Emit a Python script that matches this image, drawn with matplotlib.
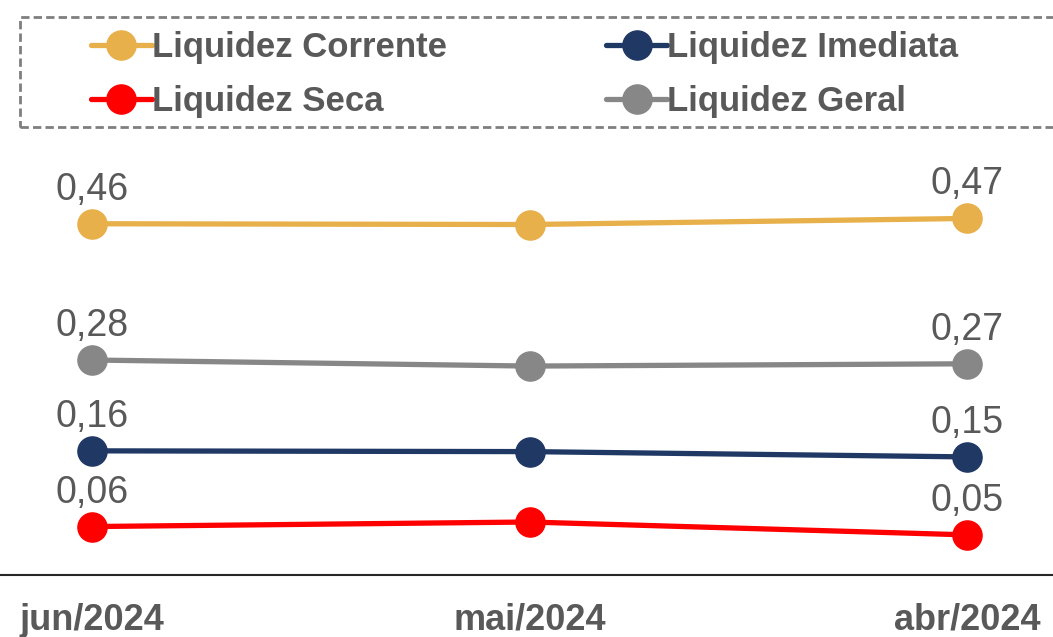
import numpy as np
import matplotlib
matplotlib.use('Agg')
import matplotlib.pyplot as plt
from matplotlib.patches import Rectangle

plt.rcParams['font.family'] = ['Liberation Sans', 'DejaVu Sans']

meses = ['jun/2024', 'mai/2024', 'abr/2024']
corrente = [0.46, 0.459, 0.467]
imediata = [0.16, 0.159, 0.152]
seca = [0.06, 0.066, 0.049]
geral = [0.28, 0.272, 0.275]

rotulos_corrente = ['0,46', '', '0,47']
rotulos_imediata = ['0,16', '', '0,15']
rotulos_seca = ['0,06', '', '0,05']
rotulos_geral = ['0,28', '', '0,27']

cinza = '#595959'
fig = plt.figure(figsize=(10.53, 6.37), dpi=100)
ax = fig.add_axes([0, 1 - 575 / 637, 1, (575 - 140) / 637])

x = np.arange(len(meses))
series = [
    ('Liquidez Corrente', corrente, rotulos_corrente, '#E8B04A'),
    ('Liquidez Seca', seca, rotulos_seca, '#FF0000'),
    ('Liquidez Imediata', imediata, rotulos_imediata, '#1F3864'),
    ('Liquidez Geral', geral, rotulos_geral, '#878787'),
]
for nome, vals, rots, cor in series:
    ax.plot(x, vals, color=cor, lw=3.8, marker='o', markersize=21, label=nome,
            solid_capstyle='round')
    for xi, v, r in zip(x, vals, rots):
        if r:
            ax.annotate(r, (xi, v), xytext=(0, 24.5), textcoords='offset points',
                        ha='center', va='center', fontsize=27, color=cinza)

ax.set_xlim(-92 / 437.5, 2 + 86 / 437.5)
ax.set_ylim(-0.004, (575 - 140) / 757 - 0.004)
for s in ['top', 'right', 'left']:
    ax.spines[s].set_visible(False)
ax.spines['bottom'].set_color('#262626')
ax.spines['bottom'].set_linewidth(1.5)
ax.set_yticks([])
ax.set_xticks(x)
ax.set_xticklabels(meses, fontsize=26, fontweight='bold', color=cinza)
ax.tick_params(axis='x', length=0, pad=20)

# moldura tracejada da legenda
fig.patches.append(Rectangle((20 / 1053, 1 - 127 / 637), 1.05, 110 / 637,
                             transform=fig.transFigure, fill=False,
                             edgecolor='#7f7f7f', lw=2, ls=(0, (3, 1.5))))
leg = fig.legend(loc='upper left', bbox_to_anchor=(77 / 1053, 1 - 17 / 637), ncol=2,
                 frameon=False, fontsize=25, handlelength=1.75, handletextpad=0.0,
                 columnspacing=4.6, labelspacing=0.6, markerscale=1.0,
                 borderaxespad=0)
for t in leg.get_texts():
    t.set_color(cinza)
    t.set_fontweight('bold')

fig.savefig('out.png', dpi=100)
